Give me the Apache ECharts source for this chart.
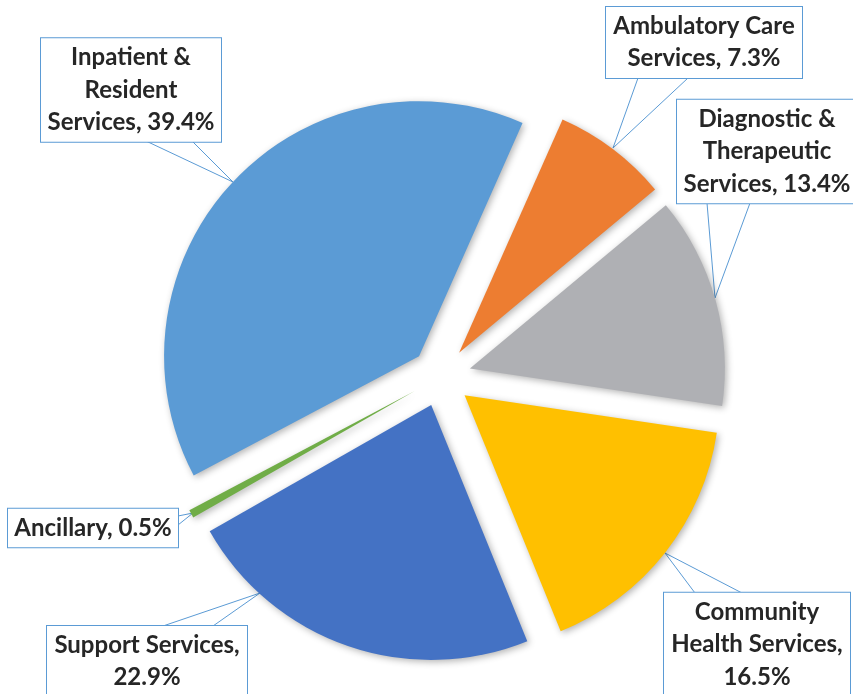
<!DOCTYPE html>
<html><head><meta charset="utf-8">
<script src="https://cdn.jsdelivr.net/npm/echarts@6/dist/echarts.min.js"></script>
<style>html,body{margin:0;padding:0;background:#fff}#c{width:853px;height:694px}</style>
</head><body><div id="c"></div>
<script>
const categories = ['Inpatient & Resident Services','Ambulatory Care Services','Diagnostic & Therapeutic Services','Community Health Services','Support Services','Ancillary'];
const shares = [39.4, 7.3, 13.4, 16.5, 22.9, 0.5];
const labelNames = ['Inpatient &\nResident\nServices', 'Ambulatory Care\nServices', 'Diagnostic &\nTherapeutic\nServices', 'Community\nHealth Services', 'Support Services', 'Ancillary'];
const labelSeps = [', ', ', ', ', ', ',\n', ',\n', ', '];
const colors = ['#5B9BD5','#ED7D31','#AFB0B4','#FFC000','#4472C4','#70AD47'];

// callout box layout (pixel centre, width) and wedge pointer points
const callouts = [
  {x:131, y:90,    w:180, line:[[146,141],[233,182],[192,141]]},
  {x:704, y:42.5,  w:196, line:[[638,78],[613,148],[688,78]]},
  {x:767, y:151.5, w:180, line:[[707,203],[715,298],[750,203]]},
  {x:757, y:644.5, w:186, line:[[695,593],[665,553],[742,593]]},
  {x:147, y:661.5, w:200, line:[[163,626],[260,593],[213,626]]},
  {x:93,  y:528,   w:170, line:[[178,516],[193,513],[178,525]]}
];

const center = [441, 376.6];
const radius = 255;
const startAngle = 207.9;

const sliceData = categories.map((c, i) => ({
  name: c, value: shares[i], selected: true,
  itemStyle: { color: colors[i] }
}));
const labelData = categories.map((c, i) => ({
  name: c, value: shares[i],
  label: { width: callouts[i].w }
}));

const chart = echarts.init(document.getElementById('c'), null, {renderer: 'canvas'});
chart.setOption({
  animation: false,
  backgroundColor: '#fff',
  series: [{
    type: 'pie',
    center: center,
    radius: [0, radius],
    startAngle: startAngle,
    clockwise: true,
    selectedMode: 'multiple',
    selectedOffset: 30,
    data: sliceData,
    itemStyle: {
      shadowBlur: 7,
      shadowColor: 'rgba(0,0,0,0.3)',
      shadowOffsetX: 2,
      shadowOffsetY: 2
    },
    emphasis: { disabled: true },
    label: { show: false },
    labelLine: { show: false }
  }, {
    type: 'pie',
    center: center,
    radius: [0, radius],
    startAngle: startAngle,
    clockwise: true,
    silent: true,
    selectedMode: false,
    avoidLabelOverlap: false,
    data: labelData,
    itemStyle: { color: 'rgba(0,0,0,0)' },
    emphasis: { disabled: true },
    label: {
      show: true,
      position: 'outside',
      formatter: p => labelNames[p.dataIndex] + labelSeps[p.dataIndex] + p.value.toFixed(1) + '%',
      fontFamily: 'Lato',
      fontWeight: 'bold',
      fontSize: 24,
      lineHeight: 32.5,
      color: '#262626',
      align: 'center',
      backgroundColor: '#fff',
      borderColor: '#5B9BD5',
      borderWidth: 1,
      padding: [6, 0, 0, 0]
    },
    labelLine: {
      show: true,
      lineStyle: { color: '#5B9BD5', width: 1 }
    },
    labelLayout: function (params) {
      const c = callouts[params.dataIndex];
      return {
        x: c.x,
        y: c.y,
        align: 'center',
        verticalAlign: 'middle',
        labelLinePoints: c.line
      };
    }
  }]
});
</script>
</body></html>
